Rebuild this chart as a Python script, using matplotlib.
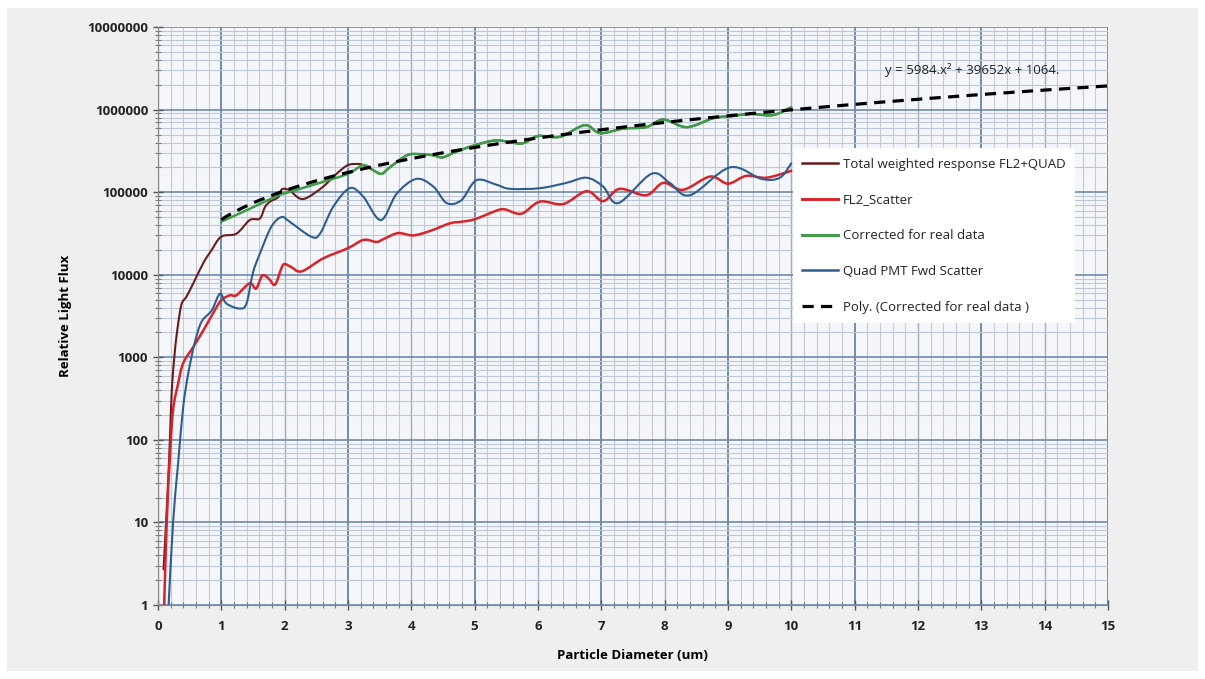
import numpy as np
import matplotlib
matplotlib.use("Agg")
from matplotlib import pyplot as plt
from matplotlib.patches import Rectangle, PathPatch
from matplotlib.path import Path
from matplotlib.lines import Line2D
from matplotlib.ticker import FixedLocator, LogLocator, FuncFormatter, NullFormatter

plt.rcParams['font.family'] = ['Open Sans', 'DejaVu Sans']

# Total weighted response FL2+QUAD (only the part that differs from the corrected curve)
total_x = [0.09, 0.15, 0.19, 0.22, 0.26, 0.30, 0.37, 0.45, 0.56, 0.72, 0.85, 1.00,
           1.24, 1.45, 1.61, 1.69, 1.77, 1.90, 1.95, 2.00, 2.08, 2.24, 2.37, 2.61,
           2.82, 3.00, 3.17]
total_y = [2.7, 20, 100, 400, 1000, 1950, 4300, 5400, 7900, 14000, 20000, 29000,
           31500, 46000, 48000, 66000, 77000, 87000, 107000, 110000, 105000, 84000,
           87000, 117000, 167000, 213000, 220000]

# Corrected for real data
green_x = [1.00, 1.45, 1.90, 2.00, 2.50, 3.00, 3.24, 3.40, 3.53, 3.66, 3.93, 4.13,
           4.35, 4.50, 4.71, 5.00, 5.35, 5.74, 6.00, 6.35, 6.74, 6.98, 7.35, 7.71,
           7.98, 8.35, 8.77, 9.08, 9.35, 9.71, 10.00]
green_y = [44000, 63000, 92000, 97000, 126000, 167000, 213000, 185000, 167000,
           200000, 280000, 290000, 280000, 265000, 310000, 370000, 425000, 390000,
           480000, 470000, 650000, 520000, 590000, 615000, 760000, 615000, 790000,
           840000, 890000, 860000, 1070000]

# FL2_Scatter
red_x = [0.10, 0.14, 0.19, 0.24, 0.32, 0.40, 0.56, 0.72, 0.87, 1.00, 1.14, 1.24,
         1.45, 1.55, 1.65, 1.75, 1.85, 1.95, 2.00, 2.10, 2.27, 2.61, 3.00, 3.25,
         3.45, 3.56, 3.79, 4.03, 4.30, 4.61, 4.80, 5.00, 5.35, 5.48, 5.74, 6.03,
         6.40, 6.77, 7.03, 7.29, 7.71, 7.98, 8.29, 8.72, 9.00, 9.29, 9.61, 10.00]
red_y = [1, 10, 62, 230, 480, 850, 1340, 2130, 3400, 4900, 5650, 5650,
         7900, 6800, 9800, 9000, 7600, 12000, 13500, 12500, 11000, 15800, 21000, 26500,
         25000, 27000, 32000, 30000, 34000, 42000, 44000, 47000, 60000, 62000, 55000, 77000,
         72000, 103000, 78000, 110000, 92000, 130000, 107000, 155000, 127000, 158000, 150000, 182000]

# Quad PMT Fwd Scatter
blue_x = [0.17, 0.24, 0.32, 0.40, 0.48, 0.58, 0.69, 0.85, 0.98, 1.08, 1.29, 1.40,
          1.50, 1.61, 1.79, 1.95, 2.08, 2.42, 2.56, 2.77, 3.03, 3.24, 3.52, 3.77,
          4.08, 4.35, 4.56, 4.79, 5.03, 5.35, 5.56, 6.03, 6.45, 6.77, 7.03, 7.27,
          7.79, 8.08, 8.40, 9.03, 9.53, 9.82, 10.00]
blue_y = [1, 10, 52, 250, 640, 1480, 2700, 3700, 5900, 4500, 3900, 4500,
          10500, 18000, 38000, 50000, 44000, 29000, 31500, 67000, 112000, 89000, 46000, 96000,
          145000, 117000, 74000, 80000, 140000, 123000, 110000, 112000, 130000, 150000, 117000, 74000,
          167000, 130000, 92000, 200000, 145000, 150000, 224000]

# polynomial trendline of the corrected curve, as printed on the chart
poly_coef = [5984, 39652, 1064]
poly_x = [1, 15]
poly_label = "y = 5984.x\u00b2 + 39652x + 1064."


def smooth_path(xs, ys):
    """Excel-style smoothed line: cubic Bezier segments (Catmull-Rom controls) in log-y space."""
    x = np.asarray(xs, float)
    ly = np.log10(np.asarray(ys, float))
    pts = np.column_stack([x, ly])
    verts = [pts[0]]
    codes = [Path.MOVETO]
    n = len(pts)
    for i in range(n - 1):
        p0 = pts[max(i - 1, 0)]
        p1 = pts[i]
        p2 = pts[i + 1]
        p3 = pts[min(i + 2, n - 1)]
        c1 = p1 + (p2 - p0) / 6.0
        c2 = p2 - (p3 - p1) / 6.0
        verts += [c1, c2, p2]
        codes += [Path.CURVE4] * 3
    verts = np.array(verts)
    verts[:, 1] = 10 ** verts[:, 1]
    return Path(verts, codes)


fig = plt.figure(figsize=(12.05, 6.79), dpi=100)
fig.patch.set_facecolor('white')
fig.add_artist(Rectangle((0.006, 0.012), 0.988, 0.976, transform=fig.transFigure,
                         facecolor='#efefef', edgecolor='none', zorder=-10))

ax = fig.add_axes([0.131, 0.109, 0.7885, 0.851])
ax.set_facecolor('#f4f6fa')
ax.set_yscale('log')
ax.set_xlim(0, 15)
ax.set_ylim(1, 1e7)

# total continues underneath the corrected curve
tail = [i for i, x in enumerate(green_x) if x > 3.2]
tx = total_x + [green_x[i] for i in tail]
ty = total_y + [green_y[i] for i in tail]

series = [
    (tx, ty, '#6a1c1c', 1.5, 'Total weighted response FL2+QUAD', 3),
    (red_x, red_y, '#d8232a', 1.8, 'FL2_Scatter', 3),
    (green_x, green_y, '#3d9c47', 1.8, 'Corrected for real data', 4),
    (blue_x, blue_y, '#2e5d8e', 1.5, 'Quad PMT Fwd Scatter', 3),
]
handles = []
for xs, ys, col, lw, lab, z in series:
    ax.add_patch(PathPatch(smooth_path(xs, ys), fill=False, edgecolor=col, lw=lw,
                           zorder=z, capstyle='round', joinstyle='round'))
    handles.append(Line2D([], [], color=col, lw=lw + 0.3, label=lab))

px = np.linspace(poly_x[0], poly_x[1], 200)
poly_line, = ax.plot(px, np.polyval(poly_coef, px), color='black', lw=2.3, ls=(0, (3.5, 2.3)),
                     label='Poly. (Corrected for real data )', zorder=5)
handles.append(poly_line)

ax.text(11.48, 3.0e6, poly_label, fontsize=9.5, color='#222222', va='center', ha='left')

# ticks and grid
ax.xaxis.set_major_locator(FixedLocator(np.arange(0, 16, 1)))
ax.xaxis.set_minor_locator(FixedLocator(np.arange(0, 15.01, 0.2)))
ax.yaxis.set_major_locator(LogLocator(base=10, numticks=10))
ax.yaxis.set_minor_locator(LogLocator(base=10, subs=np.arange(2, 10), numticks=100))
ax.yaxis.set_major_formatter(FuncFormatter(lambda v, p: f"{int(round(v))}"))
ax.yaxis.set_minor_formatter(NullFormatter())

ax.grid(which='minor', axis='x', color='#c6cbd3', lw=0.8)
ax.grid(which='major', axis='x', color='#a2acbb', lw=1.0)
ax.grid(which='minor', axis='y', color='#bcc7d8', lw=0.8)
ax.grid(which='major', axis='y', color='#7088ad', lw=1.2)
for i, gl in enumerate(ax.get_xgridlines()):
    if i % 2 == 1:
        gl.set_color('#6683aa')
        gl.set_linewidth(1.3)
ax.set_axisbelow(True)

ax.tick_params(which='major', direction='inout', length=7, width=1, color='#555555',
               labelsize=9.5, labelcolor='#222222')
ax.tick_params(which='minor', direction='inout', length=4, width=0.8, color='#777777')
ax.tick_params(axis='x', which='major', pad=7)
for lbl in ax.get_xticklabels() + ax.get_yticklabels():
    lbl.set_fontweight('bold')

for side in ['top', 'right']:
    ax.spines[side].set_visible(False)
for side in ['left', 'bottom']:
    ax.spines[side].set_color('#888888')

ax.set_xlabel('Particle Diameter (um)', fontsize=9.5, fontweight='bold', labelpad=12)
ax.set_ylabel('Relative Light Flux', fontsize=9.5, fontweight='bold', labelpad=11)

leg = ax.legend(handles=handles, loc='upper left', bbox_to_anchor=(0.668, 0.791), fontsize=9.5,
                frameon=True, fancybox=False, framealpha=1, edgecolor='none',
                facecolor='white', labelspacing=1.72, handlelength=2.7,
                handletextpad=0.35, borderpad=0.75, borderaxespad=0)
for t in leg.get_texts():
    t.set_color('#222222')

fig.savefig('out.png', dpi=100, facecolor=fig.get_facecolor())
